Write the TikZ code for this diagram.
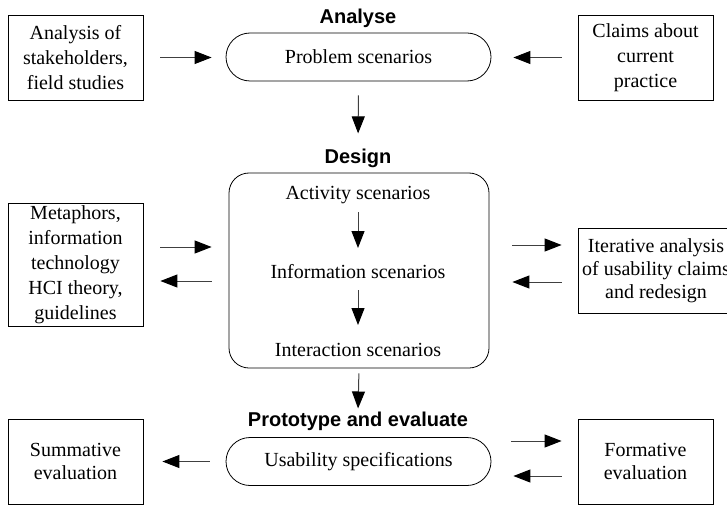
\documentclass[tikz,border=0pt]{standalone}
\usepackage{fontspec}
\setmainfont{Liberation Serif}
\newfontfamily\bodyfont{Liberation Serif}
\newfontfamily\headfont{Liberation Sans}
\usetikzlibrary{arrows.meta}
\begin{document}
\begin{tikzpicture}[x=1pt,y=-1pt,
  txt/.style={font=\bodyfont\fontsize{20}{25}\selectfont, align=center, inner sep=0pt},
  txtb/.style={font=\bodyfont\fontsize{20}{23}\selectfont, align=center, inner sep=0pt},
  sbox/.style={draw, line width=0.8pt, minimum width=135pt, minimum height=85pt},
  capsule/.style={draw, line width=0.8pt, rounded corners=24pt, minimum width=265pt, minimum height=48pt},
  head/.style={font=\headfont\bfseries\fontsize{20}{24}\selectfont, inner sep=0pt},
  arr/.style={draw=black!75, line width=1pt, -{Triangle[length=17pt,width=13pt,color=black,fill=black]}}
]
\useasboundingbox (0,0) rectangle (727,505);

% Analyse row
\node[head] (hana) at (358,18) {Analyse};
\node[txt,sbox] (tl) at (75.5,57.5) {Analysis of\\stakeholders,\\field studies};
\node[txt,capsule] (prob) at (358.5,57) {Problem scenarios};
\node[txt,sbox] (tr) at (645.5,57.5) {Claims about\\current\\practice};

% Design row
\node[head] (hdes) at (358,158) {Design};
\node[draw, line width=0.8pt, rounded corners=20pt, minimum width=260pt, minimum height=195pt] (des) at (359,270.5) {};
\node[txt] (act) at (358,195) {Activity scenarios};
\node[txt] (info) at (358,272) {Information scenarios};
\node[txt] (inter) at (358,350) {Interaction scenarios};
\node[txt, draw, line width=0.8pt, minimum width=135pt, minimum height=123pt] (lm) at (75.5,264.5) {Metaphors,\\information\\technology\\HCI theory,\\guidelines};
\node[txtb, draw, line width=0.8pt, minimum width=156pt, minimum height=85pt] (rm) at (656,270.5) {Iterative analysis\\of usability claims\\and redesign};

% Prototype row
\node[head] (hpro) at (358,421) {Prototype and evaluate};
\node[txt,capsule] (usab) at (358.5,461.5) {Usability specifications};
\node[txtb,sbox] (bl) at (75.5,461.5) {Summative\\evaluation};
\node[txtb,sbox] (br) at (645.5,461.5) {Formative\\evaluation};

% Connectors: Analyse
\draw[arr, shorten <=17pt, shorten >=14pt] (tl.east) -- (tl.east -| prob.west);
\draw[arr, shorten <=16pt, shorten >=22pt] (tr.west) -- (tr.west -| prob.east);
\draw[arr, shorten <=14pt, shorten >=15pt] (prob.south) -- (hdes.north);

% Connectors: Design
\draw[arr, shorten <=17pt, shorten >=17pt] ([yshift=17.5pt]lm.east) -- ([yshift=17.5pt]lm.east -| des.west);
\draw[arr, shorten <=17pt, shorten >=17pt] ([yshift=-16.5pt]lm.east -| des.west) -- ([yshift=-16.5pt]lm.east);
\draw[arr, shorten <=23pt, shorten >=16pt] ([yshift=25.5pt]rm.west -| des.east) -- ([yshift=25.5pt]rm.west);
\draw[arr, shorten <=16pt, shorten >=23pt] ([yshift=-11.5pt]rm.west) -- ([yshift=-11.5pt]rm.west -| des.east);
\draw[arr] ([yshift=-17pt]act.center) -- ([yshift=24pt]info.center);
\draw[arr] ([yshift=-18pt]info.center) -- ([yshift=25pt]inter.center);
\draw[arr, shorten <=5pt, shorten >=3pt] (des.south) -- (hpro.north);

% Connectors: Prototype
\draw[arr, shorten <=16pt, shorten >=19pt] (usab.west) -- (usab.west -| bl.east);
\draw[arr, shorten <=20pt, shorten >=16pt] ([yshift=20.5pt]usab.east) -- ([yshift=20.5pt]usab.east -| br.west);
\draw[arr, shorten <=16pt, shorten >=22pt] ([yshift=-14.5pt]br.west) -- ([yshift=-14.5pt]br.west -| usab.east);
\end{tikzpicture}
\end{document}
